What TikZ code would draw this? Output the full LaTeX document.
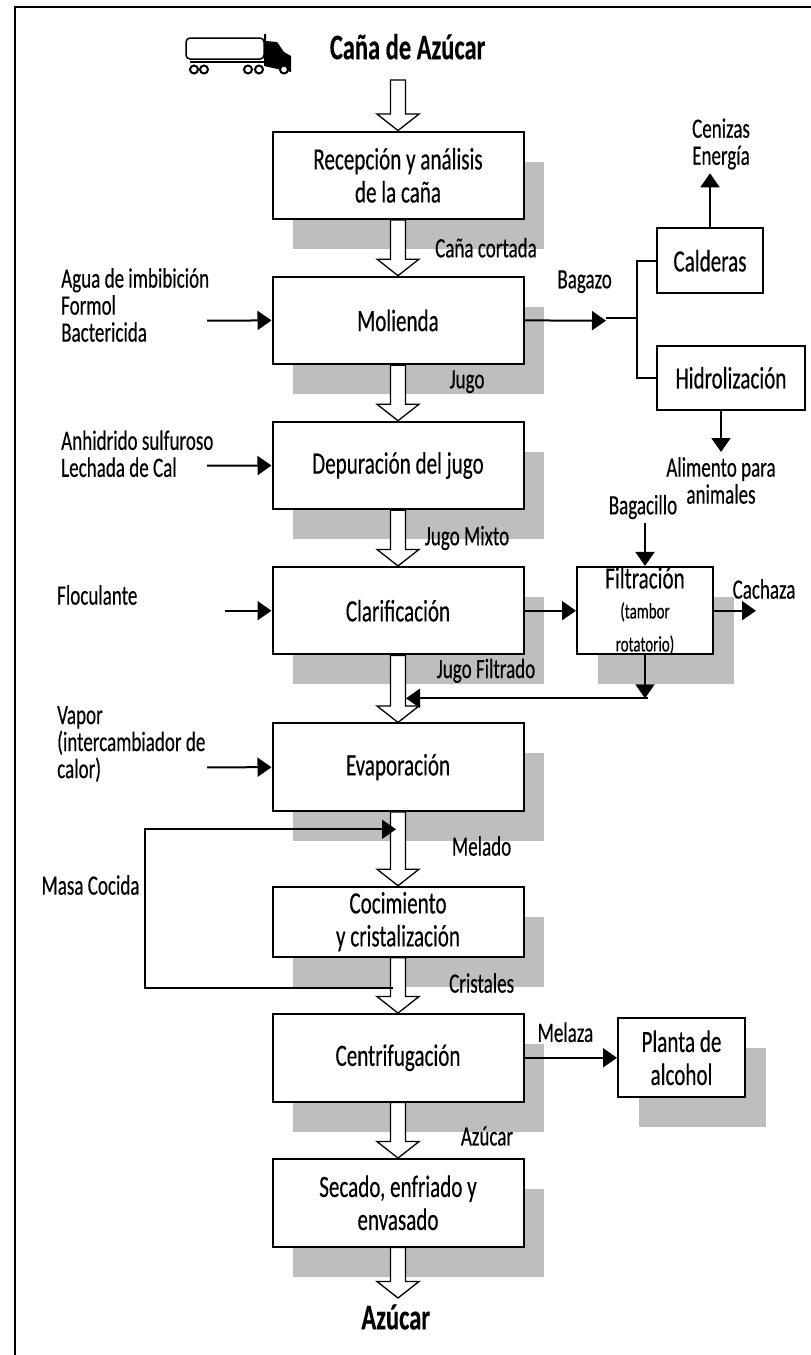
\documentclass[tikz,border=0pt]{standalone}
\usepackage{fontspec}
\setmainfont{Carlito}[FakeStretch=0.68,FakeBold=0.3]
\usetikzlibrary{arrows.meta,calc,shadows}
\definecolor{shadowgray}{HTML}{BEBEBE}
\tikzset{
	procbox/.style={draw, line width=2pt, fill=white, inner sep=0pt, align=center,
		font=\fontsize{31}{33}\selectfont},
	shadowed/.style={general shadow={fill=shadowgray, shadow xshift=20.5pt, shadow yshift=-30pt}},
	mainbox/.style={procbox, shadowed, minimum width=251pt, minimum height=87.5pt},
	lbl/.style={inner sep=0pt, font=\fontsize{28}{27}\selectfont},
	lblleft/.style={lbl, anchor=west, align=left},
	title/.style={inner sep=0pt, font=\fontsize{36}{36}\selectfont\bfseries},
	flow/.style={line width=2pt, -{Triangle[length=14pt,width=19pt]}},
	plainline/.style={line width=2pt}
}
\newcommand{\blockarrow}[2]{
	\draw[line width=1.3pt, fill=white] let \p1=(#1), \p2=(#2) in
		(\x2-7.5pt,\y1) -- (\x2-7.5pt,\y2+16.5pt) -- (\x2-21pt,\y2+16.5pt) -- (\x2,\y2)
		-- (\x2+21pt,\y2+16.5pt) -- (\x2+7.5pt,\y2+16.5pt) -- (\x2+7.5pt,\y1) -- cycle;
}
\begin{document}
\begin{tikzpicture}[x=1pt,y=-1pt]
	\useasboundingbox (0,0) rectangle (811,1355);

	%The frame
	\draw[line width=2pt] (14.5,1355) -- (14.5,7) -- (811,7);

	%The truck
	\draw[line width=1.5pt, rounded corners=4pt] (186,38) rectangle (264,59);
	\fill (264,34) -- (266,34) -- (266,41) -- (277,42) -- (284,52) -- (291,56) -- (291,72) -- (264,66) -- cycle;
	\draw[line width=2pt] (190,62) -- (264,62);
	\foreach \wx in {194,204,248,259,284}
		\draw[line width=2pt, fill=white] (\wx,69.5) circle (4);

	%The main column
	\node[mainbox] (recepcion) at (398,175.3) {Recepción y análisis\\de la caña};
	\node[mainbox] (molienda) at (398,320.4) {Molienda};
	\node[mainbox] (depuracion) at (398,465.5) {Depuración del jugo};
	\node[mainbox] (clarificacion) at (398,610.7) {Clarificación};
	\node[mainbox] (evaporacion) at (398,767.2) {Evaporación};
	\node[mainbox, minimum height=70pt] (cocimiento) at (398,921.7) {Cocimiento\\y cristalización};
	\node[mainbox] (centrifugacion) at (398,1057.8) {Centrifugación};
	\node[mainbox] (secado) at (398,1202.8) {Secado, enfriado y\\envasado};

	%The side boxes
	\node[procbox, minimum width=106pt, minimum height=65pt] (calderas) at (710,260.8) {Calderas};
	\node[procbox, minimum width=148pt, minimum height=64.3pt] (hidrolizacion) at (731,377.8) {Hidrolización};
	\node[procbox, shadowed, minimum width=136pt, minimum height=87.3pt] (filtracion) at (645,610.7) {Filtración\\[-3pt]\fontsize{22}{24}\selectfont (tambor\\\fontsize{22}{24}\selectfont rotatorio)};
	\node[procbox, shadowed, minimum width=127pt, minimum height=79pt] (planta) at (681.5,1057.8) {Planta de\\alcohol};

	%The free ends
	\coordinate (canatop) at (398,80);
	\coordinate (azucartip) at (398,1298);
	\coordinate (aguastart) at (207,320.7);
	\coordinate (anhistart) at (207,465.7);
	\coordinate (flocstart) at (225,610.7);
	\coordinate (vaporstart) at (207,767.3);
	\coordinate (bagaciend) at (645,522.7);
	\coordinate (cachazaend) at (756,610.7);
	\coordinate (cenizasend) at (710,173.3);
	\coordinate (alimentoend) at (721,452);
	\coordinate (bagazotip) at (606,320.7);
	\coordinate (juncbagazo) at (636.8,318.3);
	\coordinate (juncfiltro) at (645,698.3);
	\coordinate (retfiltro) at (406,698.3);
	\coordinate (masastart) at (393,988.3);
	\coordinate (masatip) at (396,829.3);

	%The block arrows
	\blockarrow{canatop}{recepcion.north}
	\blockarrow{recepcion.south}{molienda.north}
	\blockarrow{molienda.south}{depuracion.north}
	\blockarrow{depuracion.south}{clarificacion.north}
	\blockarrow{clarificacion.south}{evaporacion.north}
	\blockarrow{evaporacion.south}{cocimiento.north}
	\blockarrow{cocimiento.south}{centrifugacion.north}
	\blockarrow{centrifugacion.south}{secado.north}
	\blockarrow{secado.south}{azucartip}

	%The inputs and outputs
	\draw[flow] (aguastart) -- (molienda.west);
	\draw[flow] (anhistart) -- (depuracion.west);
	\draw[flow] (flocstart) -- (clarificacion.west);
	\draw[flow] (vaporstart) -- (evaporacion.west);
	\draw[flow] (molienda.east) -- (bagazotip);
	\draw[plainline] (bagazotip |- juncbagazo) -- (juncbagazo);
	\draw[plainline] (calderas.west) -- (juncbagazo |- calderas.west) -- (juncbagazo |- hidrolizacion.west) -- (hidrolizacion.west);
	\draw[flow] (calderas.north) -- (cenizasend);
	\draw[flow] (hidrolizacion.south -| alimentoend) -- (alimentoend);
	\draw[flow] (clarificacion.east) -- (filtracion.west);
	\draw[flow] (bagaciend) -- (filtracion.north);
	\draw[flow] (filtracion.east) -- (cachazaend);
	\draw[flow] (filtracion.south) -- (juncfiltro);
	\draw[flow] ($(juncfiltro)+(3,0)$) -- (retfiltro);
	\draw[flow] (masastart) -- (145.4,988.3) -- (145.4,829.3) -- (masatip);
	\draw[flow] (centrifugacion.east) -- (planta.west);

	%The labels
	\node[title] (canatxt) at (407.6,46.7) {Caña de Azúcar};
	\node[title] (azucartxt) at (395.7,1317) {Azúcar};
	\node[lbl] (cortada) at (486,247.7) {Caña cortada};
	\node[lbl] (jugo) at (467,381.7) {Jugo};
	\node[lbl] (mixto) at (467,538) {Jugo Mixto};
	\node[lbl] (filtrado) at (486,670.7) {Jugo Filtrado};
	\node[lbl] (melado) at (481.6,846) {Melado};
	\node[lbl] (cristales) at (481.6,983) {Cristales};
	\node[lbl] (azucarlbl) at (487,1136) {Azúcar};
	\node[lbl] (melaza) at (565.4,1032.3) {Melaza};
	\node[lbl] (bagazo) at (584.6,281.7) {Bagazo};
	\node[lbl, align=center] (cenizas) at (721,144) {Cenizas\\Energía};
	\node[lbl, align=center] (alimento) at (721,480.5) {Alimento para\\animales};
	\node[lbl] (bagacillo) at (643,507) {Bagacillo};
	\node[lbl] (cachaza) at (764,589) {Cachaza};
	\node[lbl] (masa) at (90.5,885) {Masa Cocida};
	\node[lblleft] (agua) at (61,305) {Agua de imbibición\\Formol\\Bactericida};
	\node[lblleft] (anhidrido) at (61,453.7) {Anhidrido sulfuroso\\Lechada de Cal};
	\node[lblleft] (floculante) at (57,595) {Floculante};
	\node[lblleft] (vapor) at (57,744) {Vapor\\(intercambiador de\\calor)};

\end{tikzpicture}
\end{document}
